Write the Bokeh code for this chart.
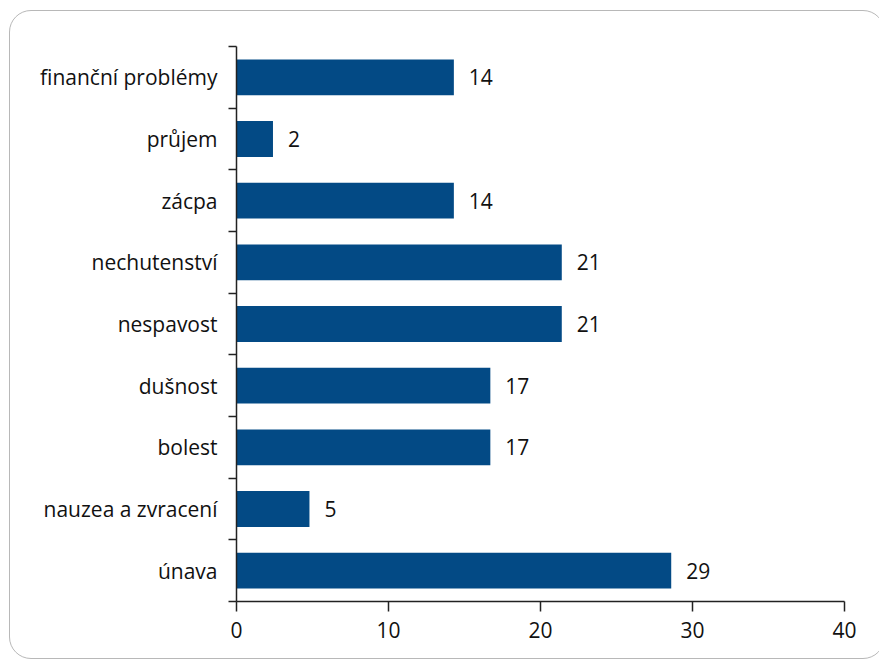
from bokeh.plotting import figure
from bokeh.models import (Range1d, LinearAxis, FixedTicker,
                          CustomJSTickFormatter, ColumnDataSource)
from bokeh.core.properties import value
from bokeh.embed import file_html
from bokeh.resources import INLINE

# data (bottom to top)
categories = ["únava", "nauzea a zvracení", "bolest", "dušnost", "nespavost",
              "nechutenství", "zácpa", "průjem", "finanční problémy"]
values = [28.6, 4.8, 16.7, 16.7, 21.4, 21.4, 14.3, 2.4, 14.3]
value_labels = ["29", "5", "17", "17", "21", "21", "14", "2", "14"]
x_ticks = [0, 10, 20, 30, 40]

FONT = "Open Sans"
FS = "21px"
BAR = "#034a85"

n = len(categories)
centers = [i + 0.5 for i in range(n)]
src = ColumnDataSource(dict(y=centers, val=values, lab=value_labels))

p = figure(width=876, height=649, output_backend="svg", toolbar_location=None,
           y_range=Range1d(0, n), x_range=Range1d(0, 40),
           y_axis_location=None, x_axis_location=None,
           min_border_left=226, min_border_right=42, min_border_top=35,
           min_border_bottom=59)
p.styles = {"border": "1.3px solid #b8b8b8", "border-radius": "22px",
            "margin-left": "9px", "margin-top": "10px", "overflow": "hidden"}
p.border_fill_color = None
p.background_fill_color = None
p.outline_line_color = None
p.xgrid.visible = False
p.ygrid.visible = False

p.hbar(y="y", right="val", left=0, height=0.58, source=src,
       fill_color=BAR, line_color=None)
p.text(x="val", y="y", text="lab", source=src, x_offset=15,
       text_baseline="middle", text_align="left",
       text_font=value(FONT), text_font_size=FS, text_color="#111111")

# x axis
xa = LinearAxis(ticker=FixedTicker(ticks=x_ticks))
xa.axis_line_color = "#222222"
xa.axis_line_width = 1.5
xa.major_tick_line_color = "#222222"
xa.major_tick_line_width = 1.5
xa.major_tick_in = 0
xa.major_tick_out = 10
xa.minor_tick_line_color = None
xa.major_label_standoff = 10
xa.major_label_text_font = FONT
xa.major_label_text_font_size = FS
xa.major_label_text_color = "#111111"
p.add_layout(xa, "below")

# y axis with ticks at category boundaries
ya = LinearAxis(ticker=FixedTicker(ticks=list(range(n + 1))),
                formatter=CustomJSTickFormatter(code="return ''"))
ya.axis_line_color = "#222222"
ya.axis_line_width = 1.5
ya.major_tick_line_color = "#222222"
ya.major_tick_line_width = 1.5
ya.major_tick_in = 0
ya.major_tick_out = 8
ya.minor_tick_line_color = None
ya.major_label_standoff = 0
p.add_layout(ya, "left")

# category labels at band centres
ca = LinearAxis(ticker=FixedTicker(ticks=centers),
                formatter=CustomJSTickFormatter(args=dict(cats=categories),
                                                code="return cats[Math.floor(tick)]"))
ca.axis_line_color = None
ca.major_tick_line_color = None
ca.minor_tick_line_color = None
ca.major_label_standoff = 5
ca.major_label_text_font = FONT
ca.major_label_text_font_size = FS
ca.major_label_text_color = "#111111"
p.add_layout(ca, "left")

open("out.html", "w").write(file_html(p, INLINE))
